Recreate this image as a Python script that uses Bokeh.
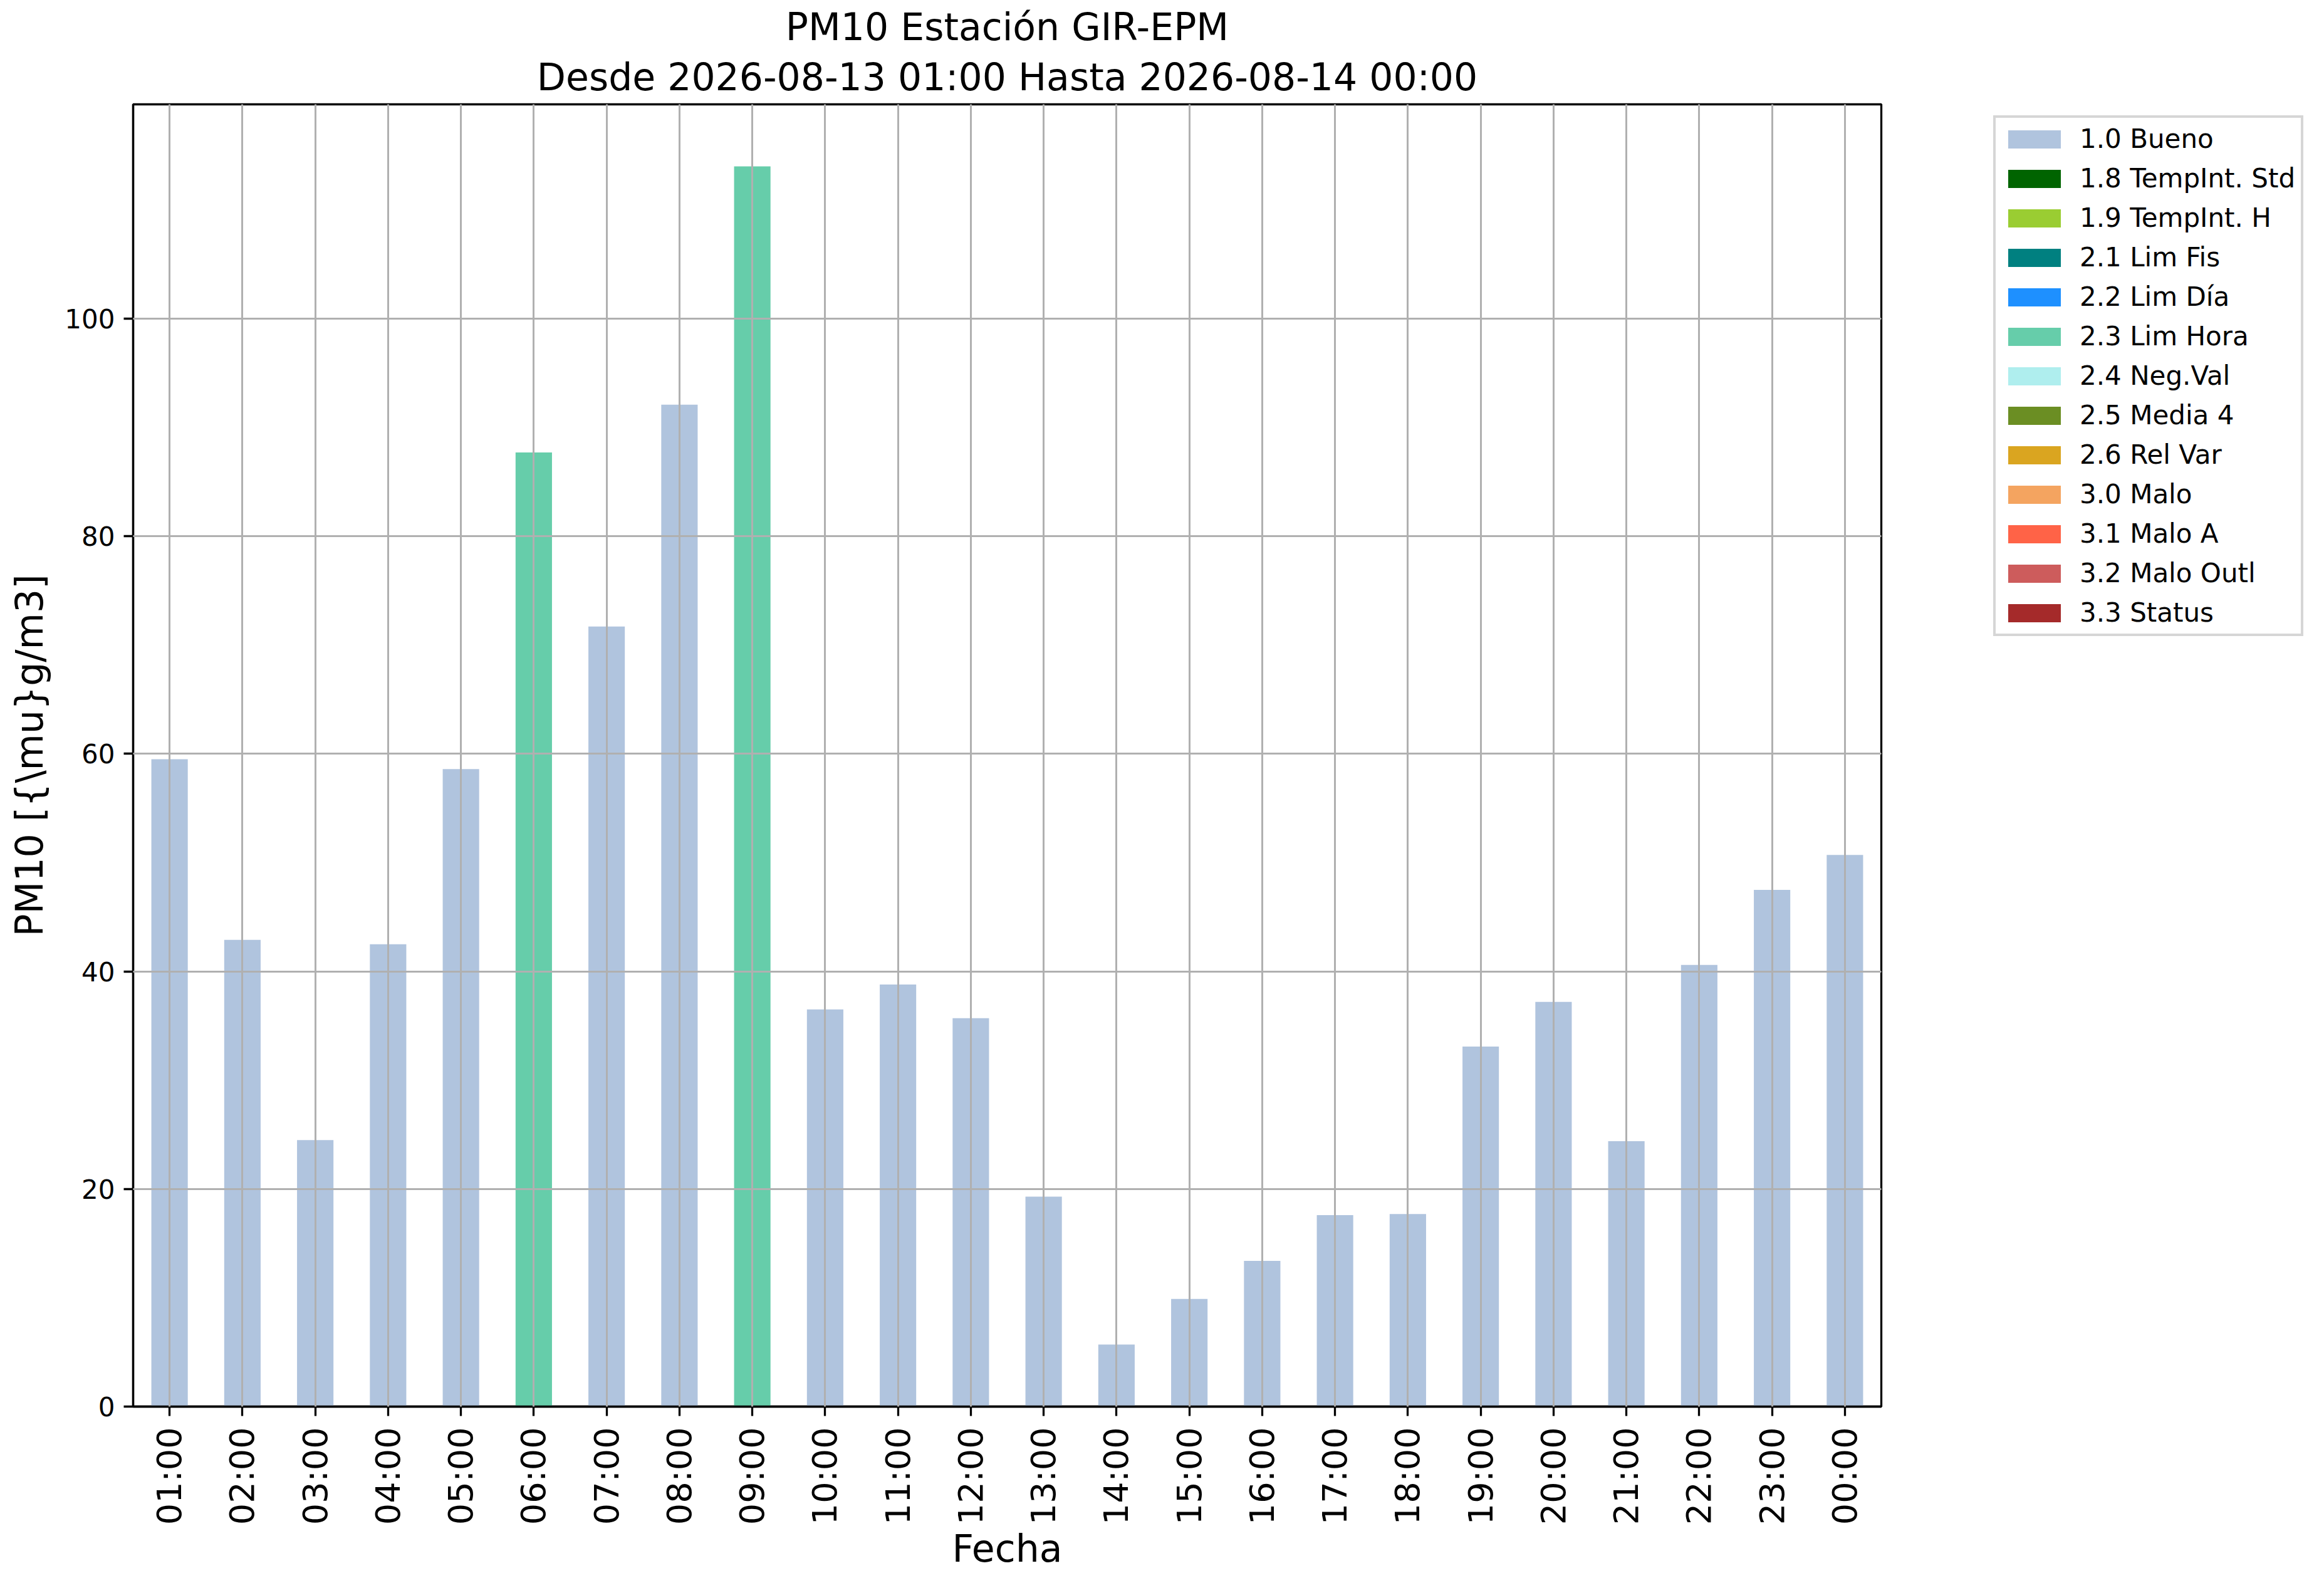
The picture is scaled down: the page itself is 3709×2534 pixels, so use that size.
import math
from bokeh.plotting import figure
from bokeh.models import (ColumnDataSource, Range1d, FactorRange, FixedTicker,
                          Legend, LegendItem, Title)
from bokeh.embed import file_html
from bokeh.resources import INLINE

# ---------------- data ----------------
hours = ["01:00", "02:00", "03:00", "04:00", "05:00", "06:00", "07:00", "08:00",
         "09:00", "10:00", "11:00", "12:00", "13:00", "14:00", "15:00", "16:00",
         "17:00", "18:00", "19:00", "20:00", "21:00", "22:00", "23:00", "00:00"]
pm10 = [59.5, 42.9, 24.5, 42.5, 58.6, 87.7, 71.7, 92.1, 114.0, 36.5, 38.8, 35.7,
        19.3, 5.7, 9.9, 13.4, 17.6, 17.7, 33.1, 37.2, 24.4, 40.6, 47.5, 50.7]
bar_flag = ["1.0 Bueno", "1.0 Bueno", "1.0 Bueno", "1.0 Bueno", "1.0 Bueno",
            "2.3 Lim Hora", "1.0 Bueno", "1.0 Bueno", "2.3 Lim Hora", "1.0 Bueno",
            "1.0 Bueno", "1.0 Bueno", "1.0 Bueno", "1.0 Bueno", "1.0 Bueno",
            "1.0 Bueno", "1.0 Bueno", "1.0 Bueno", "1.0 Bueno", "1.0 Bueno",
            "1.0 Bueno", "1.0 Bueno", "1.0 Bueno", "1.0 Bueno"]
flag_names = ["1.0 Bueno", "1.8 TempInt. Std", "1.9 TempInt. H", "2.1 Lim Fis",
              "2.2 Lim Día", "2.3 Lim Hora", "2.4 Neg.Val", "2.5 Media 4",
              "2.6 Rel Var", "3.0 Malo", "3.1 Malo A", "3.2 Malo Outl", "3.3 Status"]
flag_colors = ["#B0C4DE", "#006400", "#9ACD32", "#008080", "#1E90FF", "#66CDAA",
               "#AFEEEE", "#6B8E23", "#DAA520", "#F4A460", "#FF6347", "#CD5C5C",
               "#A52A2A"]
y_ticks = [0, 20, 40, 60, 80, 100]
title_line1 = "PM10 Estación GIR-EPM"
title_line2 = "Desde 2026-08-13 01:00 Hasta 2026-08-14 00:00"
x_label = "Fecha"
y_label = r"PM10 [{\mu}g/m3]"

FONT = "DejaVu Sans"
FW, FH = 2790, 2078

p = figure(x_range=FactorRange(*hours), y_range=Range1d(0, 119.7),
           frame_width=FW, frame_height=FH,
           min_border_left=212, min_border_top=166,
           min_border_right=690, min_border_bottom=270,
           output_backend="svg", toolbar_location=None,
           background_fill_color="white", border_fill_color="white")

items = []
for name, color in zip(flag_names, flag_colors):
    # one series per quality flag: values where the flag applies, gaps elsewhere
    tops = [v if f == name else float("nan") for v, f in zip(pm10, bar_flag)]
    src = ColumnDataSource(dict(x=hours, top=tops))
    r = p.vbar(x="x", top="top", bottom=0, width=0.5, source=src,
               fill_color=color, line_color=None)
    items.append(LegendItem(label=name, renderers=[r], index=0))

# two-line title, each line centred over the frame (line 2 nearest the frame)
p.title.text = ""
p.add_layout(Title(text=title_line2, align="center", text_font=FONT,
                   text_font_size="60px", text_font_style="normal",
                   text_color="black", standoff=17, text_line_height=0.82),
             "above")
p.add_layout(Title(text=title_line1, align="center", text_font=FONT,
                   text_font_size="60px", text_font_style="normal",
                   text_color="black", standoff=0), "above")

# grid
p.grid.grid_line_color = "#b0b0b0"
p.grid.grid_line_width = 3
p.grid.level = "guide"

# outline
p.outline_line_color = "black"
p.outline_line_width = 3.3
p.outline_line_alpha = 1

# axes
for ax in (p.xaxis, p.yaxis):
    ax.axis_line_width = 3.3
    ax.axis_line_color = "black"
    ax.major_tick_line_width = 3.3
    ax.major_tick_line_color = "black"
    ax.major_tick_out = 15
    ax.major_tick_in = 0
    ax.minor_tick_line_color = None
    ax.major_label_text_font = FONT
    ax.major_label_text_color = "black"
    ax.axis_label_text_font = FONT
    ax.axis_label_text_font_size = "60px"
    ax.axis_label_text_font_style = "normal"
    ax.axis_label_text_color = "black"

p.yaxis.ticker = FixedTicker(ticks=y_ticks)
p.yaxis.major_label_text_font_size = "42px"
p.yaxis.major_label_standoff = 14
p.yaxis.axis_label = y_label
p.yaxis.axis_label_standoff = 18

p.xaxis.major_label_text_font_size = "54px"
p.xaxis.major_label_orientation = math.pi / 2
p.xaxis.major_label_standoff = 18
p.xaxis.axis_label = x_label
p.xaxis.axis_label_standoff = 0

legend = Legend(items=items, location=(179, 1229), margin=0,
                label_text_font=FONT, label_text_font_size="42px",
                label_text_color="black",
                glyph_width=105, glyph_height=36, label_height=29,
                label_standoff=20, padding=9, spacing=14,
                border_line_color="#d6d6d6", border_line_width=4,
                border_line_alpha=1,
                background_fill_color="white", background_fill_alpha=1)
p.add_layout(legend, "right")

open("out.html", "w").write(file_html(p, INLINE))
